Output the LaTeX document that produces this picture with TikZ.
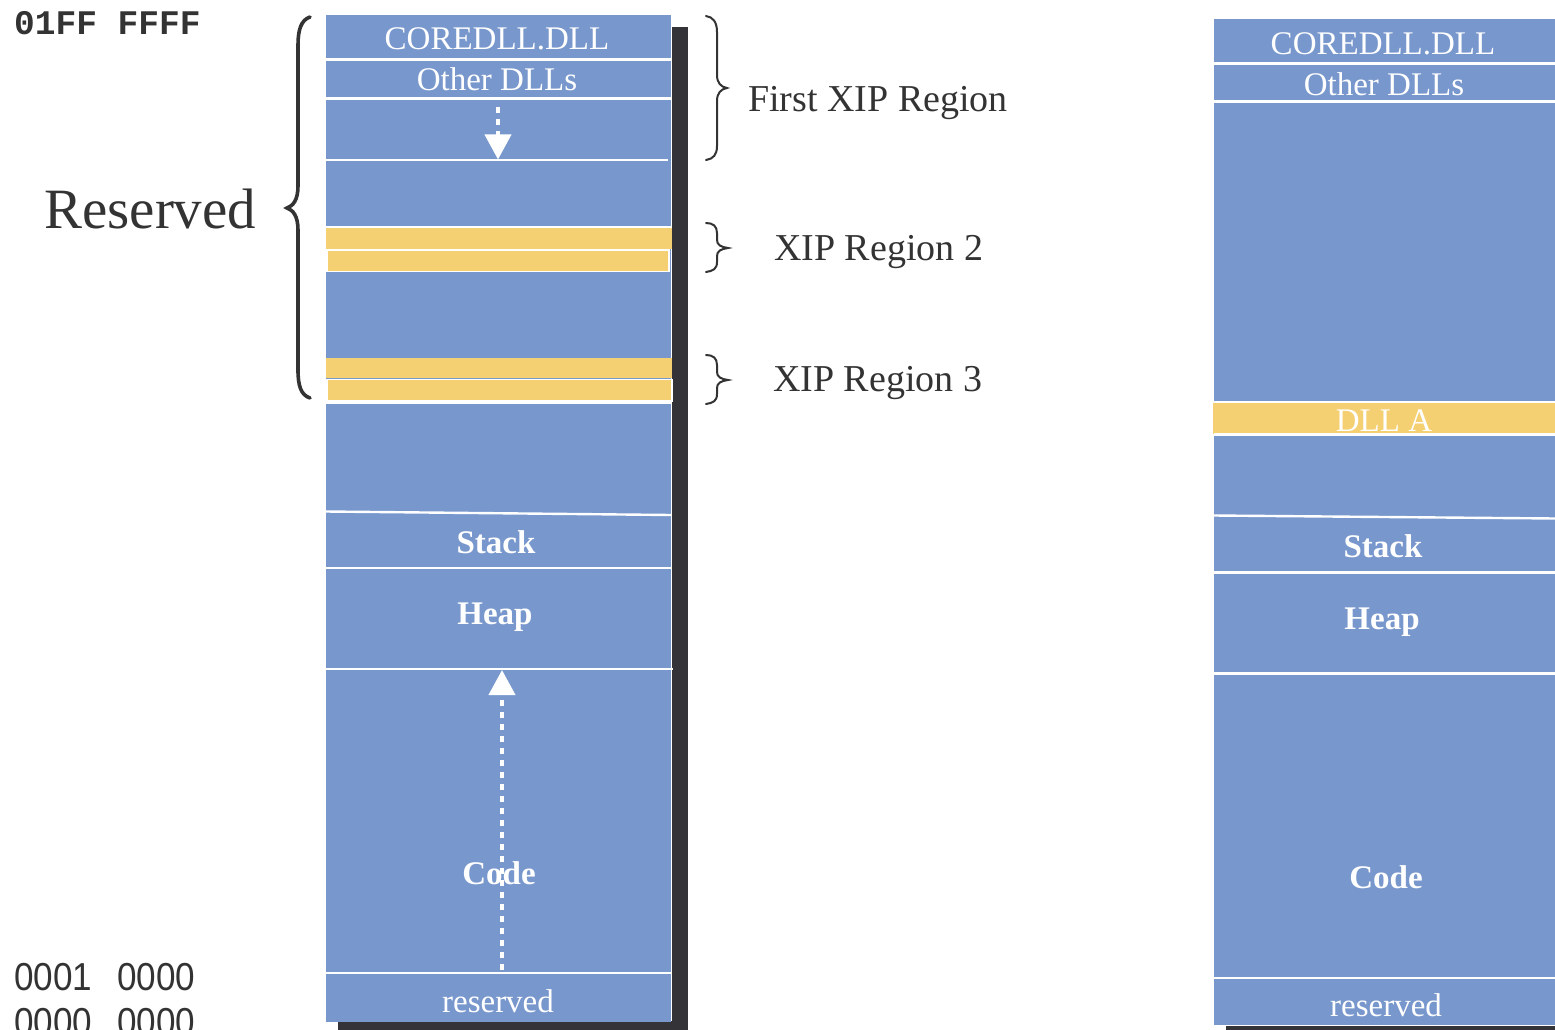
\documentclass[tikz,border=0pt]{standalone}
\usepackage{fontspec}
\setmainfont{Liberation Serif}
\newfontfamily\addrmono{Liberation Mono}
\newfontfamily\addrsans[FakeStretch=0.9]{Liberation Sans}
\usetikzlibrary{arrows.meta}
\definecolor{memblue}{RGB}{120,151,204}
\definecolor{xipyellow}{RGB}{244,208,114}
\definecolor{shadowgray}{RGB}{52,51,56}
\definecolor{inkgray}{RGB}{51,51,51}
\begin{document}
\begin{tikzpicture}[x=1pt,y=-1pt,
  sep/.style={draw=white,line width=2.4pt},
  band/.style={fill=xipyellow},
  bandframe/.style={fill=xipyellow,draw=white,line width=1.2pt},
  seglabel/.style={text=white,inner sep=0pt,anchor=base,font=\fontsize{33}{36}\selectfont},
  segbold/.style={text=white,inner sep=0pt,anchor=base,font=\bfseries\fontsize{33}{36}\selectfont},
  sidelabel/.style={text=inkgray,inner sep=0pt,anchor=base west,font=\fontsize{38}{40}\selectfont},
  addrtop/.style={text=inkgray,inner sep=0pt,anchor=base west,font=\addrmono\bfseries\fontsize{34.5}{36}\selectfont},
  addrlow/.style={text=inkgray,inner sep=0pt,anchor=base west,font=\addrsans\fontsize{39}{40}\selectfont},
  bigbrace/.style={draw=inkgray,line width=3.6pt,line cap=round},
  smallbrace/.style={draw=inkgray,line width=2pt,line cap=round},
  flow/.style={draw=white,line width=4pt,dash pattern=on 6pt off 6pt,
    -{Triangle[width=26pt,length=25pt]}}]
\useasboundingbox (0,0) rectangle (1555,1030);
\clip (0,0) rectangle (1555,1030);

% ---------- left memory map ----------
\fill[shadowgray] (672,27) rectangle (688,1030);
\fill[shadowgray] (338,1021) rectangle (688,1030);
\fill[memblue] (326,15) rectangle (671,1022);
\fill[band] (326,228) rectangle (672,249);
\filldraw[bandframe] (327,250) rectangle (669,271.5);
\fill[band] (326,358) rectangle (672,378);
\filldraw[bandframe] (327,379.5) rectangle (672,401);

\draw[sep] (326,59.5) -- (671,59.5);
\draw[sep] (326,98.5) -- (671,98.5);
\draw[sep] (326,160) -- (668,160);
\draw[sep] (326,227) -- (671,227);
\draw[sep] (326,402.5) -- (671,402.5);
\draw[sep] (326,511.5) -- (671,515);
\draw[sep] (326,568) -- (671,568);
\draw[sep] (326,669) -- (673,669);
\draw[sep] (326,973) -- (671,973);

\node[seglabel] (lcore) at (497,50) {COREDLL.DLL};
\node[seglabel] (lother) at (497,91) {Other DLLs};
\node[segbold] (lstack) at (496,553) {Stack};
\node[segbold] (lheap) at (495,624) {Heap};
\node[segbold] (lcode) at (499,884) {Code};
\node[seglabel] (lres) at (498,1012) {reserved};

% growth directions
\coordinate (dlTop) at (498,107);
\coordinate (dlTip) at (498,159.5);
\draw[flow] (dlTop) -- (dlTip);
\coordinate (ulBot) at (502,970);
\coordinate (ulTip) at (502,670);
\draw[flow] (ulBot) -- (ulTip);

% ---------- braces and region labels ----------
\draw[bigbrace] (310,17) .. controls (301,20) and (298,30) .. (298,45)
  -- (298,186) .. controls (298,200) and (293,206) .. (287,208)
  .. controls (293,210) and (298,216) .. (298,230)
  -- (298,370) .. controls (298,386) and (301,395) .. (310,398);
\node[text=inkgray,inner sep=0pt,anchor=base west,font=\fontsize{57}{60}\selectfont] (resv) at (44,228) {Reserved};

\draw[smallbrace] (706,16) .. controls (713,17) and (717,22) .. (717,32)
  -- (717,75) .. controls (717,83) and (721,87) .. (727,88)
  .. controls (721,89) and (717,93) .. (717,101)
  -- (717,146) .. controls (717,155) and (713,159) .. (706,160);
\draw[smallbrace] (706,223) .. controls (713,223) and (717,226) .. (717,233)
  -- (717,240) .. controls (717,245) and (721,247) .. (728,248)
  .. controls (721,249) and (717,251) .. (717,256)
  -- (717,262) .. controls (717,269) and (713,271) .. (706,272);
\draw[smallbrace] (706,355) .. controls (713,355) and (717,358) .. (717,365)
  -- (717,372) .. controls (717,377) and (721,379) .. (728,380)
  .. controls (721,381) and (717,383) .. (717,388)
  -- (717,394) .. controls (717,401) and (713,403) .. (706,404);
\node[sidelabel] (xip1) at (748,112) {First XIP Region};
\node[sidelabel] (xip2) at (774,260) {XIP Region 2};
\node[sidelabel] (xip3) at (773,391) {XIP Region 3};

% ---------- addresses ----------
\node[addrtop] (atop) at (14,35) {01FF FFFF};
\node[addrlow] (alo1) at (14,990) {0001};
\node[addrlow] (alo2) at (117,990) {0000};
\node[addrlow] (azero1) at (14,1035) {0000};
\node[addrlow] (azero2) at (117,1035) {0000};

% ---------- right memory map ----------
\fill[shadowgray] (1226,1026) rectangle (1555,1030);
\fill[memblue] (1214,19) rectangle (1555,1025);
\fill[band] (1213,403) rectangle (1555,433.5);

\draw[sep] (1214,63.5) -- (1555,63.5);
\draw[sep] (1214,101.5) -- (1555,101.5);
\draw[sep] (1214,402) -- (1555,402);
\draw[sep] (1214,434.5) -- (1555,434.5);
\draw[sep] (1214,515.5) -- (1555,518.5);
\draw[sep] (1214,572.5) -- (1555,572.5);
\draw[sep] (1214,673.5) -- (1555,673.5);
\draw[sep] (1214,978) -- (1555,978);

\node[seglabel] (rcore) at (1383,55) {COREDLL.DLL};
\node[seglabel] (rother) at (1384,96) {Other DLLs};
\node[seglabel] (rdlla) at (1384,431) {DLL A};
\node[segbold] (rstack) at (1383,557) {Stack};
\node[segbold] (rheap) at (1382,629) {Heap};
\node[segbold] (rcode) at (1386,888) {Code};
\node[seglabel] (rres) at (1386,1016) {reserved};
\end{tikzpicture}
\end{document}
